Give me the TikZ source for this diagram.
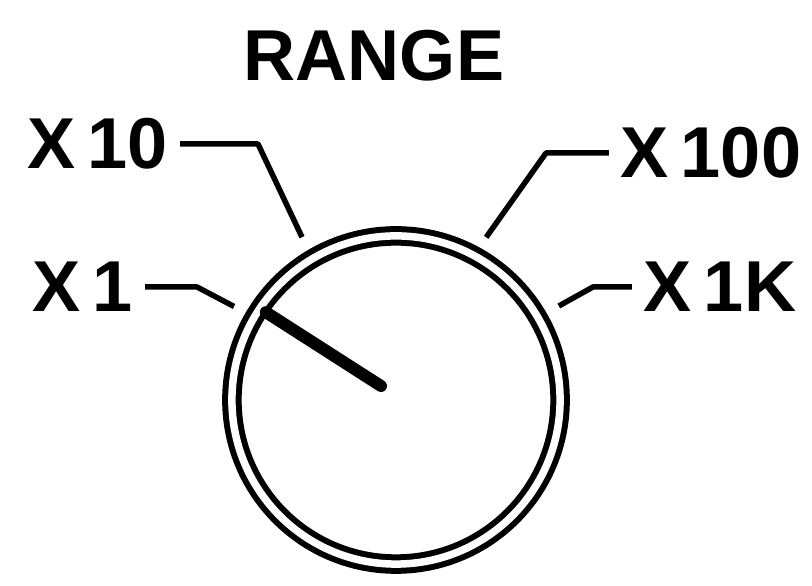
\documentclass[tikz,border=0pt]{standalone}
\usepackage{fontspec}
\setmainfont{Liberation Sans}
\usetikzlibrary{positioning,calc}

\begin{document}
\begin{tikzpicture}[x=0.01cm,y=0.01cm,
  lbl/.style={inner sep=0pt,outer sep=0.12cm,font=\fontsize{20.5}{24}\selectfont\bfseries},
  lead/.style={line width=0.055cm,line join=round},
  knobring/.style={circle,draw,double,line width=0.06cm,double distance=0.075cm,minimum size=3.28cm,inner sep=0pt,outer sep=0pt}]
\useasboundingbox (0,0) rectangle (812,586);
\node[knobring] (knob) at (396,186){};
\node[lbl] (range) at (374,530){RANGE};
\node[lbl] (x10) at (98,442){X\,10};\node[lbl] (x1) at (83,299){X\,1};
\node[lbl] (x100) at (711,433){X\,100};\node[lbl] (x1k) at (720,299){X\,1K};
\coordinate (b10) at (258,442);\coordinate (b1) at (197,299);\coordinate (b100) at (546,433);\coordinate (b1k) at (593,299);
\coordinate (e10) at ($(knob.center)+(120:188)$);\coordinate (e1) at ($(knob.center)+(150:187)$);
\coordinate (e100) at ($(knob.center)+(61:186)$);\coordinate (e1k) at ($(knob.center)+(30:188)$);
\draw[lead] (x10.east)--(b10)--(e10);\draw[lead] (x1.east)--(b1)--(e1);\draw[lead] (x100.west)--(b100)--(e100);\draw[lead] (x1k.west)--(b1k)--(e1k);
% pointer
\coordinate (hub) at (381,200);
\draw[line width=0.12cm,line cap=round] (hub)--($(knob.center)+(146:157)$);
\end{tikzpicture}
\end{document}
